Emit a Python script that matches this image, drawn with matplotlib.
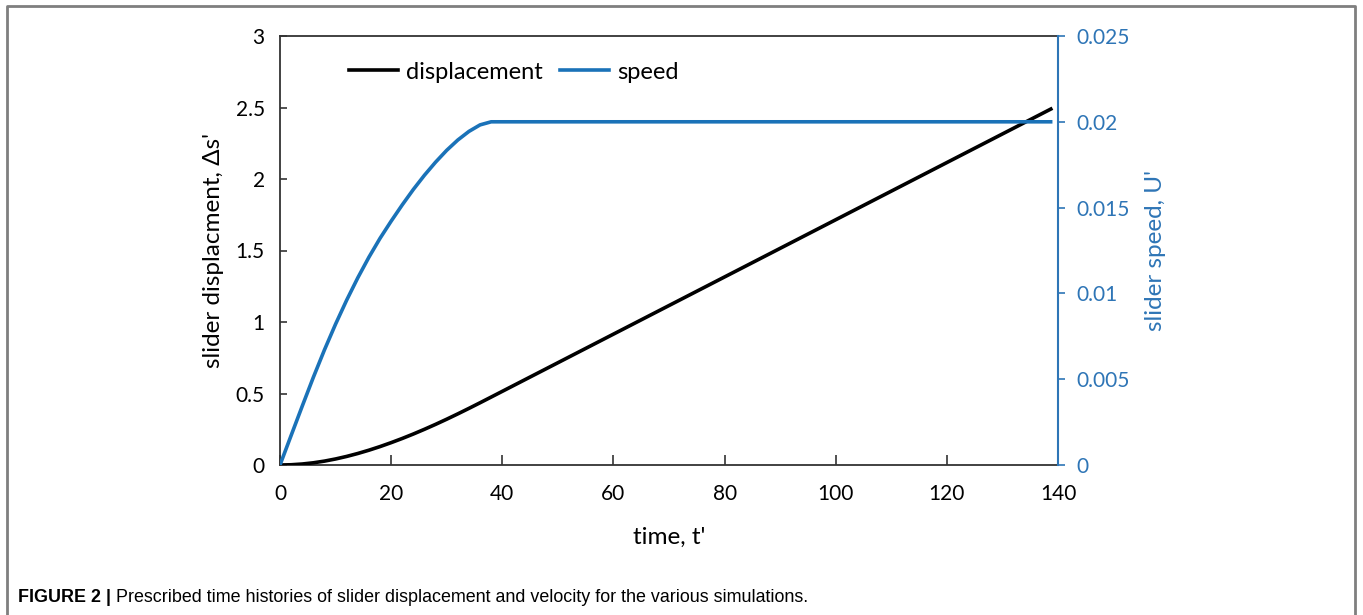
import matplotlib
matplotlib.use("Agg")
import matplotlib.pyplot as plt
from matplotlib.lines import Line2D

# Time histories of the prescribed slider motion
time = [0, 2, 4, 6, 8, 10, 12, 14, 16, 18, 20, 22, 24, 26, 28, 30,
        32, 34, 36, 38, 40, 139]
displacement = [0, 0.0017, 0.0069, 0.0154, 0.0272, 0.0422, 0.0600, 0.0805,
                0.1035, 0.1288, 0.1563, 0.1856, 0.2168, 0.2498, 0.2843,
                0.3203, 0.3576, 0.3960, 0.4352, 0.4751, 0.5151, 2.495]
speed = [0, 0.00172, 0.00343, 0.00511, 0.00671, 0.00821, 0.00961, 0.01091,
         0.01211, 0.01321, 0.01421, 0.01516, 0.01606, 0.01689, 0.01765,
         0.01834, 0.01894, 0.01944, 0.01982, 0.0200, 0.0200, 0.0200]

x_ticks = [0, 20, 40, 60, 80, 100, 120, 140]
left_ticks = [0, 0.5, 1, 1.5, 2, 2.5, 3]
left_labels = ["0", "0.5", "1", "1.5", "2", "2.5", "3"]
right_ticks = [0, 0.005, 0.01, 0.015, 0.02, 0.025]
right_labels = ["0", "0.005", "0.01", "0.015", "0.02", "0.025"]

caption_bold = "FIGURE 2 |"
caption_text = "Prescribed time histories of slider displacement and velocity for the various simulations."

BLUE = "#1A72B8"
AXBLUE = "#2E75B6"
FONT = "Lato"
FS = 15
W, H = 1363, 615

fig = plt.figure(figsize=(W / 100, H / 100), dpi=100)
ax = fig.add_axes([280 / W, 1 - 465 / H, (1058 - 280) / W, (465 - 36) / H])
ax2 = ax.twinx()

ax.plot(time, displacement, color="black", lw=2.6, solid_capstyle="butt",
        zorder=3)
ax2.plot(time, speed, color=BLUE, lw=2.6, solid_capstyle="butt", zorder=3)

ax.set_xlim(0, 140)
ax.set_ylim(0, 3)
ax2.set_ylim(0, 0.025)

ax.set_xticks(x_ticks)
ax.set_xticklabels([str(v) for v in x_ticks], fontfamily=FONT, fontsize=FS)
ax.set_yticks(left_ticks)
ax.set_yticklabels(left_labels, fontfamily=FONT, fontsize=FS)
ax2.set_yticks(right_ticks)
ax2.set_yticklabels(right_labels, fontfamily=FONT, fontsize=FS, color=AXBLUE)

ax.tick_params(axis="x", direction="in", length=7, width=1.2, pad=14,
               colors="#333333", labelcolor="black")
ax.tick_params(axis="y", direction="in", length=5, width=1.2, pad=11,
               colors="#333333", labelcolor="black")
ax2.tick_params(axis="y", direction="out", length=5, width=1.2, pad=8,
                colors=AXBLUE)

for name in ("left", "bottom", "top"):
    ax.spines[name].set_color("#333333")
    ax.spines[name].set_linewidth(1.3)
    ax2.spines[name].set_visible(False)
ax.spines["right"].set_visible(False)
ax2.spines["right"].set_color(AXBLUE)
ax2.spines["right"].set_linewidth(1.5)

ax.set_xlabel("time, t'", fontfamily=FONT, fontsize=17.5, labelpad=16)
ax.set_ylabel("slider displacment, \u0394s'", fontfamily=FONT,
              fontsize=17.5, labelpad=8)
ax2.set_ylabel("slider speed, U'", fontfamily=FONT, fontsize=17.5,
               color=AXBLUE, rotation=90, labelpad=11)

handles = [Line2D([], [], color="black", lw=2.6),
           Line2D([], [], color=BLUE, lw=2.6)]
ax.legend(handles, ["displacement", "speed"], loc="upper left",
          bbox_to_anchor=(0.077, 0.962), ncol=2, frameon=False,
          handlelength=2.05, handletextpad=0.35, columnspacing=0.75,
          borderaxespad=0.0,
          prop={"family": FONT, "size": 17})

# outer frame around the figure panel
frame = Line2D([7 / W, 7 / W, 1355 / W, 1355 / W],
               [0, 1 - 6 / H, 1 - 6 / H, 0], transform=fig.transFigure,
               color="#7f7f7f", lw=2.0)
fig.add_artist(frame)

cap_font = "Liberation Sans"
t1 = fig.text(18 / W, 1 - 597 / H, caption_bold, fontfamily=cap_font,
              fontweight="bold", fontsize=12.9, va="center", ha="left")
fig.canvas.draw()
bb = t1.get_window_extent()
fig.text((bb.x1 + 5) / W, 1 - 597 / H, caption_text, fontfamily=cap_font,
         fontsize=12.9, va="center", ha="left")

fig.savefig("out.png", dpi=100, facecolor="white")
